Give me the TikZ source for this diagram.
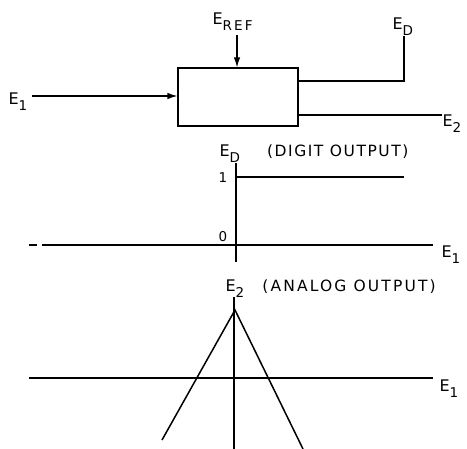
\documentclass[tikz,border=0pt]{standalone}
\usepackage{fontspec}
\setmainfont{DejaVu Sans}[LetterSpace=4]
\usetikzlibrary{arrows.meta}
\newcommand{\mysub}[1]{\raisebox{-6pt}{\fontsize{13.5}{13.5}\selectfont\addfontfeature{LetterSpace=16}#1}}
\newcommand{\capt}[2]{{\fontsize{15.5}{15.5}\selectfont\addfontfeature{LetterSpace=#1}#2}}
\begin{document}
\begin{tikzpicture}[x=1pt,y=-1pt, line width=1.2pt,
  lbl/.style={inner sep=0pt, anchor=base west, font=\fontsize{16}{16}\selectfont},
  num/.style={inner sep=0pt, font=\fontsize{13.5}{13.5}\selectfont},
  arr/.style={-{Latex[length=10pt,width=6.5pt]}}]
\useasboundingbox (0,0) rectangle (467,449);
% block diagram
\node[draw, minimum width=120pt, minimum height=58pt, inner sep=0pt] (box) at (238,97) {};
\node[lbl] (e1) at (8,105) {E\mysub{1}};
\node[lbl] (eref) at (212,25) {E\mysub{REF}};
\node[lbl] (ed) at (392,30) {E\mysub{D}};
\node[lbl] (e2) at (442,127) {E\mysub{2}};
\coordinate (e1s) at (32,96);
\coordinate (erefs) at (237,35);
\coordinate (edc) at (404,81);
\coordinate (edt) at (404,36);
\draw[arr] (e1s) -- (e1s -| box.west);
\draw[arr] (erefs) -- (erefs |- box.north);
\draw (box.east |- edc) -- (edc) -- (edt);
\draw (box.east |- 0,115) -- (e2.west |- 0,115);
% digit output graph
\coordinate (a1t) at (236,163);
\coordinate (a1b) at (236,262);
\coordinate (h1l) at (42,245);
\coordinate (h1r) at (433,245);
\coordinate (d1a) at (29,245);
\coordinate (d1b) at (37,245);
\coordinate (s1l) at (236,177);
\coordinate (s1r) at (404,177);
\draw (a1t) -- (a1b);
\draw (h1l) -- (h1r);
\draw (d1a) -- (d1b);
\draw (s1l) -- (s1r);
\node[lbl] (edlab) at (219,157) {E\mysub{D}\hspace{27pt}\capt{10}{(DIGIT OUTPUT)}};
\node[num] (one) at (223,178) {1};
\node[num] (zero) at (223,237) {0};
\node[lbl] (e1a) at (441,258) {E\mysub{1}};
% analog output graph
\coordinate (a2t) at (234,297);
\coordinate (a2b) at (234,449);
\coordinate (h2l) at (29,378);
\coordinate (h2r) at (433,378);
\coordinate (pk) at (235,310);
\coordinate (ll) at (162,440);
\coordinate (rr) at (303,449);
\draw (a2t) -- (a2b);
\draw (h2l) -- (h2r);
\draw[line width=1.5pt] (ll) -- (pk) -- (rr);
\node[lbl] (e2lab) at (225,292) {E\mysub{2}\hspace{18pt}\capt{14}{(ANALOG OUTPUT)}};
\node[lbl] (e1b) at (439,392) {E\mysub{1}};
\end{tikzpicture}
\end{document}
